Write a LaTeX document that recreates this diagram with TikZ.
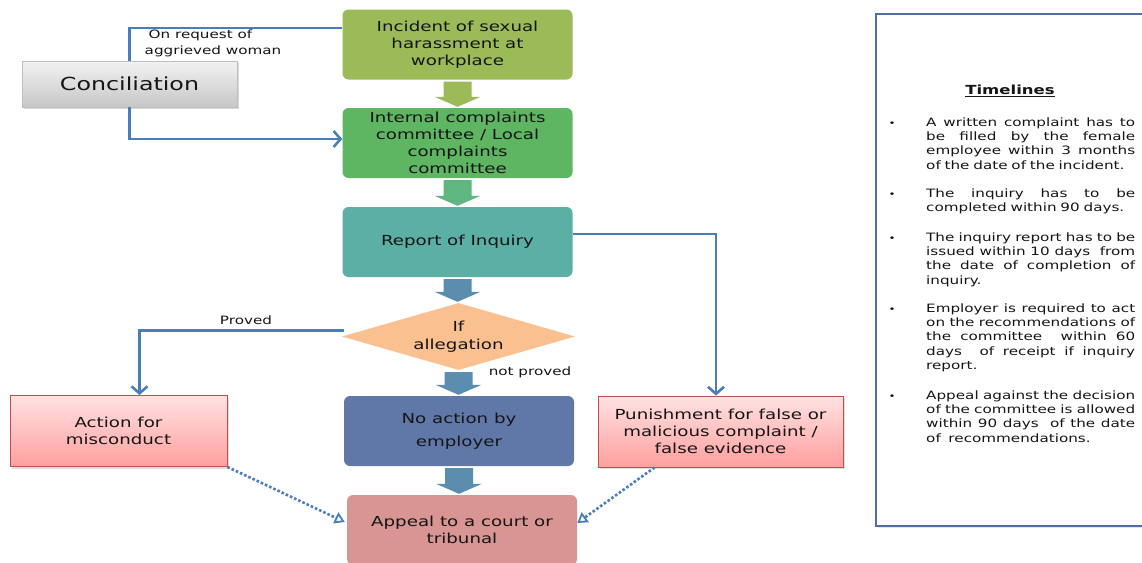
\documentclass[tikz,border=0pt]{standalone}
\usepackage{fontspec}
\setmainfont{DejaVu Sans}[FakeStretch=1.32]
\usetikzlibrary{arrows.meta,shapes.geometric,calc,shadows}
\definecolor{lineblue}{HTML}{4A7EBB}
\definecolor{cinc}{HTML}{9BBB59}
\definecolor{cicc}{HTML}{5EB663}
\definecolor{crep}{HTML}{5BAFA5}
\definecolor{cdia}{HTML}{FAC090}
\definecolor{cnoact}{HTML}{6078A8}
\definecolor{cappeal}{HTML}{D99594}
\definecolor{carrB}{HTML}{5B8DAF}
\definecolor{carrG}{HTML}{5DB77F}
\definecolor{pinktop}{HTML}{FFE2E2}
\definecolor{pinkbot}{HTML}{FF9F9F}
\definecolor{pinkborder}{HTML}{C0504D}
\definecolor{tlborder}{HTML}{4F6FA8}
\definecolor{txt}{HTML}{151515}
\newcommand\fatarrow[3]{%
  \fill[#1] let \p1=(#2.south), \p2=(#3.north) in
   (\x1-14pt,\y1-2pt) -- (\x1+14pt,\y1-2pt) -- (\x1+14pt,\y2+11pt) -- (\x1+23pt,\y2+11pt)
   -- (\x1,\y2+1pt) -- (\x1-23pt,\y2+11pt) -- (\x1-14pt,\y2+11pt) -- cycle;}
\newcommand\jl[1]{{\spaceskip=0pt\xspaceskip=0pt\makebox[209pt][s]{#1}}\\}
\begin{document}
\begin{tikzpicture}[x=1pt,y=-1pt,
  every node/.style={text=txt},
  mainbox/.style={rounded corners=6pt, minimum width=230, minimum height=70, inner sep=0pt,
     align=center, font=\fontsize{13.8}{17}\selectfont},
  pinkbox/.style={draw=pinkborder, line width=0.9pt, top color=pinktop, bottom color=pinkbot,
     minimum height=71, inner sep=0pt, align=center, font=\fontsize{13.8}{17}\selectfont,
     drop shadow={opacity=0.25, shadow xshift=2pt, shadow yshift=-2pt}},
  conn/.style={draw=lineblue, line width=2.6pt},
  tip/.style={-{Straight Barb[length=7pt,width=16pt]}},
  dotconn/.style={draw=lineblue, line width=2.6pt, dotted,
     -{Triangle[open,length=10pt,width=12pt,line width=1.8pt]}},
  lbl/.style={font=\fontsize{11.5}{16}\selectfont, inner sep=0pt},
  tltext/.style={font=\fontsize{11.5}{14.4}\selectfont, text width=209pt, align=left, inner sep=0pt, anchor=base west},
  bul/.style={font=\fontsize{9}{10}\selectfont, inner sep=0pt, anchor=base}
]
\clip (0,0) rectangle (1142,562);
\fill[white] (0,0) rectangle (1142,562);

% main column
\node[mainbox, fill=cinc] (inc) at (457.5,44.5) {Incident of sexual\\harassment at\\workplace};
\node[mainbox, fill=cicc] (icc) at (457.5,143) {Internal complaints\\committee / Local\\complaints\\committee};
\node[mainbox, fill=crep] (rep) at (457.5,242) {Report of Inquiry};
\node[diamond, aspect=3.5, fill=cdia, minimum width=233, minimum height=67, inner sep=0pt, align=center,
      font=\fontsize{13.8}{18}\selectfont] (dia) at (458.5,336.5) {If\\allegation};
\node[mainbox, fill=cnoact, font=\fontsize{13.8}{23}\selectfont] (noact) at (459,431) {No action by\\employer};
\node[mainbox, fill=cappeal] (appeal) at (462,530) {Appeal to a court or\\tribunal};

\node[pinkbox, minimum width=217] (act) at (118.5,431) {Action for\\misconduct};
\node[pinkbox, minimum width=245] (pun) at (720.5,431.5) {Punishment for false or\\malicious complaint /\\false evidence};

\node[draw=black!25, line width=0.8pt, top color=black!5, bottom color=black!22,
      minimum width=215, minimum height=46, inner sep=0pt, font=\fontsize{18}{20}\selectfont,
      drop shadow={opacity=0.3, shadow xshift=2pt, shadow yshift=-2pt}] (conc) at (129.5,84) {Conciliation};

% fat arrows
\fatarrow{cinc}{inc}{icc}
\fatarrow{carrG}{icc}{rep}
\fatarrow{carrB}{rep}{dia}
\fatarrow{carrB}{dia}{noact}
\fatarrow{carrB}{noact}{appeal}

% connectors
\coordinate (incl) at ($(inc.west)+(0,-16.5)$);
\draw[conn] (incl) -| (conc.north);
\draw[conn,tip] (conc.south) |- ($(icc.west)+(0,-4)$);
\draw[conn,tip] ($(rep.east)+(0,-8)$) -| ($(pun.north)+(-4.5,0)$);
\draw[conn,tip] (dia.west) ++(2,-6) -| ($(act.north)+(21,0)$);
\draw[dotconn] (act.south east) -- ($(appeal.west)+(-2,-8)$);
\draw[dotconn] ($(pun.south west)+(57,0)$) -- ($(appeal.east)+(0,-7)$);

% labels
\node[lbl, align=left] (req) at (213,43) {\hspace{4pt}On request of\\aggrieved woman};
\node[lbl] (prv) at (246,320) {Proved};
\node[lbl] (nprv) at (530,372) {not proved};

% timelines box
\node[draw=tlborder, line width=2pt, minimum width=290, minimum height=512, inner sep=0pt,
      drop shadow={opacity=0.2, shadow xshift=1.5pt, shadow yshift=-1.5pt}, fill=white] (tl) at (1021,270) {};
\node[font=\bfseries\fontsize{12.5}{15}\selectfont, inner sep=0pt] (tlh) at (1010,91) {\underline{Timelines}};

\node[bul] (b1) at (892,126) {•};
\node[tltext] (t1) at (926,126) {\jl{A written complaint has to}\jl{be filled by the female}\jl{employee within 3 months}of the date of the incident.};
\node[bul] (b2) at (892,197) {•};
\node[tltext] (t2) at (926,197) {\jl{The inquiry has to be}completed within 90 days.};
\node[bul] (b3) at (892,241) {•};
\node[tltext] (t3) at (926,241) {\jl{The inquiry report has to be}\jl{issued within 10 days \ from}\jl{the date of completion of}inquiry.};
\node[bul] (b4) at (892,312) {•};
\node[tltext] (t4) at (926,312) {\jl{Employer is required to act}\jl{on the recommendations of}\jl{the committee \ within 60}\jl{days \ of receipt if inquiry}report.};
\node[bul] (b5) at (892,399) {•};
\node[tltext] (t5) at (926,399) {\jl{Appeal against the decision}\jl{of the committee is allowed}\jl{within 90 days \ of the date}of \ recommendations.};
\end{tikzpicture}
\end{document}
